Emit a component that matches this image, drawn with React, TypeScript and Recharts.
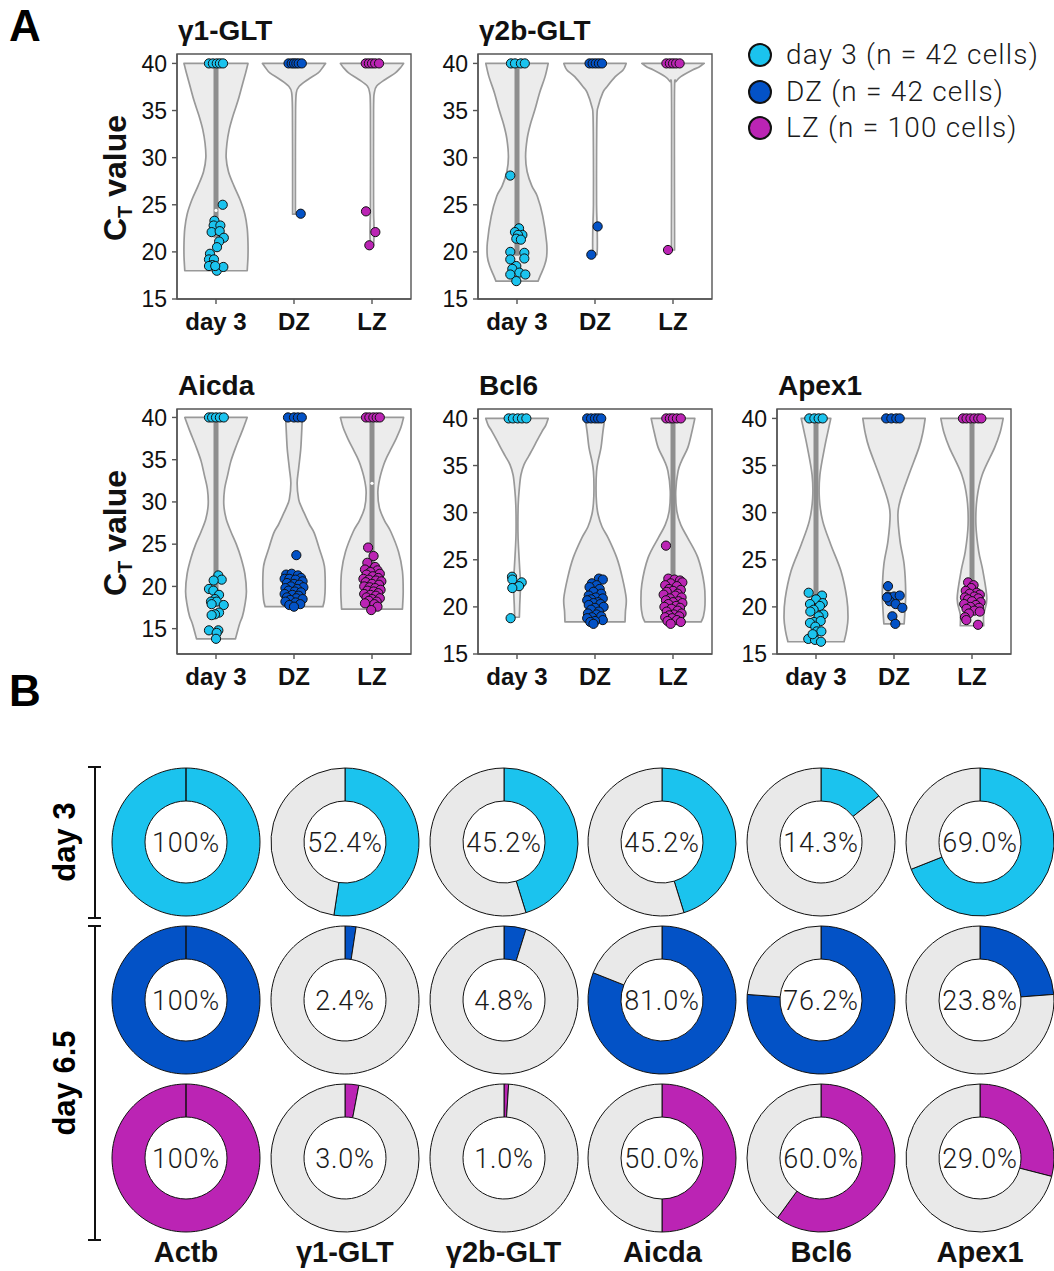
import React from "react";
import { ScatterChart, Scatter, XAxis, YAxis, ReferenceArea, PieChart, Pie, Cell, Label } from "recharts";

const FONT = "'Liberation Sans', Arial, Helvetica, sans-serif";
const LIGHT = "Roboto, 'Liberation Sans', sans-serif";

const groups = ["day 3", "DZ", "LZ"];
const groupColors = ["#1bc3ee", "#0352c6", "#bb24b4"];
const legendLabels = ["day 3 (n = 42 cells)", "DZ (n = 42 cells)", "LZ (n = 100 cells)"];
const yTicks = [15, 20, 25, 30, 35, 40];

// violin outlines: [Ct, half width in category units], day 3 / DZ / LZ
const g1Violins = [
  [[40, 0.41], [39, 0.38], [37.5, 0.33], [36, 0.28], [34.5, 0.22], [33, 0.17], [31.5, 0.14], [30, 0.13], [28.5, 0.16], [27, 0.23], [25.5, 0.31], [24, 0.37], [22.5, 0.4], [21, 0.41], [19.5, 0.41], [18, 0.4]],
  [[40, 0.405], [39.6, 0.37], [39, 0.31], [38.3, 0.18], [37.6, 0.07], [36.9, 0.03], [35, 0.02], [30, 0.018], [24, 0.018]],
  [[40, 0.405], [39.6, 0.37], [39, 0.3], [38.3, 0.17], [37.6, 0.06], [36.9, 0.03], [35, 0.02], [25, 0.02], [23, 0.025], [21.5, 0.025], [20.7, 0.02]],
];
const g2bViolins = [
  [[40, 0.4], [38.6, 0.36], [36.9, 0.29], [35.1, 0.23], [33.5, 0.17], [32, 0.13], [30.1, 0.11], [28.5, 0.13], [27, 0.19], [25.9, 0.26], [23.8, 0.33], [21, 0.38], [19.5, 0.38], [18.5, 0.35], [17.5, 0.3], [16.9, 0.27]],
  [[40, 0.4], [39.3, 0.36], [38.6, 0.26], [37.5, 0.15], [36.9, 0.1], [35.4, 0.04], [34.4, 0.025], [30, 0.02], [25, 0.02], [22.5, 0.028], [20.5, 0.03], [19.7, 0.025]],
  [[40, 0.4], [39.6, 0.33], [39.3, 0.25], [38.6, 0.1], [38.1, 0.04], [37.5, 0.02], [30, 0.018], [22, 0.02], [20.2, 0.02]],
];
const aicdaViolins = [
  [[40, 0.4], [38.5, 0.34], [36.4, 0.25], [34.8, 0.19], [33.2, 0.15], [31.5, 0.11], [29.7, 0.1], [28, 0.13], [26.5, 0.19], [25, 0.26], [23.4, 0.32], [21.5, 0.37], [19.4, 0.39], [17.8, 0.37], [16.5, 0.34], [15.5, 0.3], [13.8, 0.25]],
  [[40, 0.107], [38, 0.097], [36.2, 0.086], [34, 0.06], [32.2, 0.04], [30.3, 0.06], [29.3, 0.1], [28.3, 0.15], [27.3, 0.2], [26.3, 0.26], [24.3, 0.33], [22.4, 0.39], [20, 0.4], [18.4, 0.39], [17.6, 0.37]],
  [[40, 0.405], [38.8, 0.37], [37.5, 0.31], [36.4, 0.25], [35.3, 0.19], [34.4, 0.15], [32.8, 0.1], [31.2, 0.075], [29.3, 0.095], [27.8, 0.16], [26.5, 0.24], [24.1, 0.34], [21.8, 0.39], [19.4, 0.4], [17.3, 0.39]],
];
const bcl6Violins = [
  [[40, 0.4], [39.3, 0.37], [38.6, 0.32], [37.7, 0.26], [36.9, 0.21], [36, 0.15], [35.1, 0.09], [34, 0.05], [32.6, 0.03], [30.8, 0.015], [28, 0.012], [26.2, 0.02], [24, 0.035], [22.4, 0.045], [20.2, 0.035], [18.9, 0.03]],
  [[40, 0.125], [38.5, 0.1], [36.9, 0.077], [35.5, 0.04], [34.4, 0.02], [32.6, 0.013], [31, 0.02], [29.8, 0.04], [28.5, 0.09], [27.3, 0.17], [25.2, 0.28], [23.1, 0.35], [20.9, 0.4], [19.5, 0.39], [18.4, 0.385]],
  [[40, 0.28], [38.5, 0.24], [36.9, 0.19], [35.5, 0.11], [34.4, 0.065], [32.3, 0.035], [30.1, 0.05], [28.7, 0.1], [27.3, 0.19], [25.2, 0.32], [22.4, 0.4], [20.2, 0.41], [19, 0.39], [18.4, 0.36]],
];
const apex1Violins = [
  [[40, 0.19], [38.5, 0.15], [36.9, 0.11], [34, 0.05], [31.5, 0.043], [29.1, 0.086], [26.6, 0.19], [23.8, 0.32], [20.9, 0.395], [18.8, 0.41], [17.4, 0.39], [16.3, 0.36]],
  [[40, 0.4], [38.5, 0.37], [36.9, 0.32], [34, 0.19], [31.5, 0.086], [29.8, 0.05], [27, 0.077], [24.5, 0.13], [21.6, 0.15], [19.5, 0.14], [18.2, 0.13]],
  [[40, 0.4], [38.5, 0.36], [36.9, 0.29], [34, 0.13], [31.5, 0.064], [28.7, 0.05], [25.9, 0.086], [23.8, 0.14], [20.9, 0.19], [19.2, 0.15], [18, 0.15]],
];

// inner boxes: [q1, median, q3]
const g1Boxes = [[21.5, 24.4, 40], null, null];
const g2bBoxes = [[19.6, 40, 40], null, null];
const aicdaBoxes = [[18.2, 40, 40], [18.8, 19.8, 20.8], [22, 32.2, 40]];
const bcl6Boxes = [null, [19.3, 20.5, 21.8], [19.8, 22.9, 40]];
const apex1Boxes = [[18.5, 20.6, 40], null, [22.2, 40, 40]];

// cells: [jitter offset, Ct]
const g1Points = [
  [[-0.09, 40], [-0.04, 40], [0.01, 40], [0.05, 40], [0.09, 40], [0.086, 25.0], [-0.02, 23.3], [-0.03, 22.8], [0.056, 22.8], [-0.056, 22.1], [0.047, 22.2], [0.1, 21.5], [0.04, 21.1], [0.013, 20.5], [-0.077, 19.8], [-0.09, 19.2], [-0.026, 19.2], [-0.047, 18.6], [-0.09, 18.5], [0.01, 18.0], [0.094, 18.4], [-0.01, 18.5]],
  [[-0.07, 40], [-0.03, 40], [0.0, 40], [0.03, 40], [0.06, 40], [0.1, 40], [0.086, 24.05]],
  [[-0.08, 40], [-0.04, 40], [0.0, 40], [0.04, 40], [0.09, 40], [-0.077, 24.3], [0.043, 22.1], [-0.034, 20.7]],
];
const g2bPoints = [
  [[-0.077, 40], [-0.026, 40], [0.05, 40], [0.1, 40], [-0.086, 28.1], [0.026, 22.5], [-0.026, 22.1], [0.069, 21.8], [0.013, 21.8], [-0.009, 21.4], [0.05, 21.3], [-0.086, 20.0], [0.094, 19.9], [-0.086, 19.2], [0.094, 19.3], [-0.009, 18.5], [-0.06, 18.2], [0.03, 17.8], [-0.086, 17.6], [0.107, 17.6], [-0.009, 16.9]],
  [[-0.07, 40], [-0.03, 40], [0.01, 40], [0.05, 40], [0.09, 40], [0.034, 22.7], [-0.047, 19.7]],
  [[-0.085, 40], [-0.04, 40], [0.0, 40], [0.04, 40], [0.085, 40], [-0.064, 20.2]],
];
const aicdaPoints = [
  [[-0.09, 40], [-0.05, 40], [0.0, 40], [0.05, 40], [0.1, 40], [0.03, 21.3], [0.073, 20.8], [-0.03, 20.7], [-0.09, 19.7], [-0.034, 19.5], [0.039, 19.0], [-0.013, 18.5], [-0.064, 18.2], [0.009, 18.2], [0.099, 17.8], [-0.056, 17.9], [0.039, 16.9], [-0.013, 16.7], [-0.056, 16.6], [-0.09, 14.8], [0.03, 14.8], [0.009, 14.5], [0.0, 13.8]],
  [[-0.077, 40], [0.0, 40], [0.05, 40], [0.1, 40], [0.03, 23.7], [-0.1, 21.4], [-0.03, 21.5], [0.05, 21.3], [0.09, 21.0], [-0.12, 20.9], [-0.06, 20.9], [0.02, 20.8], [0.11, 20.6], [-0.09, 20.4], [0.0, 20.3], [0.07, 20.2], [-0.04, 20.0], [0.12, 19.9], [-0.11, 19.8], [0.04, 19.7], [-0.07, 19.5], [0.01, 19.4], [0.09, 19.3], [-0.12, 19.1], [-0.02, 19.0], [0.06, 18.9], [-0.09, 18.7], [0.03, 18.6], [0.11, 18.5], [-0.05, 18.4], [-0.11, 18.2], [0.02, 18.1], [0.08, 17.9], [-0.06, 17.8], [0.0, 17.6]],
  [[-0.077, 40], [-0.034, 40], [0.017, 40], [0.06, 40], [0.1, 40], [-0.05, 24.6], [0.02, 23.6], [-0.06, 22.8], [0.04, 22.3], [-0.09, 22.0], [0.07, 21.9], [-0.02, 21.7], [0.1, 21.5], [-0.07, 21.4], [0.01, 21.2], [0.08, 21.0], [-0.11, 20.9], [-0.04, 20.8], [0.05, 20.7], [0.12, 20.6], [-0.08, 20.5], [0.0, 20.3], [0.09, 20.2], [-0.1, 20.0], [-0.03, 19.9], [0.04, 19.8], [0.11, 19.6], [-0.06, 19.5], [0.02, 19.4], [0.08, 19.2], [-0.1, 19.1], [-0.02, 19.0], [0.05, 18.9], [-0.07, 18.7], [0.1, 18.6], [0.0, 18.5], [-0.04, 18.3], [0.06, 18.2], [-0.09, 18.0], [0.03, 17.9], [0.07, 17.6], [-0.01, 17.2]],
];
const bcl6Points = [
  [[-0.107, 40], [-0.052, 40], [0.009, 40], [0.064, 40], [0.12, 40], [-0.064, 23.2], [-0.06, 22.9], [0.06, 22.6], [0.026, 22.2], [-0.06, 22.0], [-0.082, 18.8]],
  [[-0.1, 40], [-0.05, 40], [0.0, 40], [0.04, 40], [0.08, 40], [0.05, 23.0], [0.1, 22.9], [-0.04, 22.5], [0.02, 22.3], [-0.07, 22.1], [0.06, 21.9], [-0.02, 21.6], [0.08, 21.4], [-0.08, 21.2], [0.01, 21.0], [0.1, 20.9], [-0.05, 20.8], [-0.1, 20.7], [0.04, 20.5], [-0.02, 20.4], [0.07, 20.3], [-0.08, 20.2], [0.11, 20.0], [0.0, 19.9], [-0.05, 19.7], [0.05, 19.5], [-0.09, 19.3], [0.02, 19.2], [0.08, 19.0], [-0.04, 18.9], [-0.1, 18.8], [0.1, 18.6], [0.0, 18.5], [-0.06, 18.4], [-0.02, 18.2]],
  [[-0.086, 40], [-0.04, 40], [0.0, 40], [0.05, 40], [0.1, 40], [-0.09, 26.5], [-0.06, 23.0], [0.02, 22.9], [0.09, 22.8], [0.12, 22.6], [-0.03, 22.5], [-0.1, 22.3], [0.05, 22.2], [-0.05, 21.9], [0.1, 21.8], [0.0, 21.7], [-0.08, 21.6], [0.06, 21.4], [-0.12, 21.3], [0.03, 21.2], [0.11, 21.0], [-0.04, 20.9], [-0.09, 20.7], [0.07, 20.6], [0.0, 20.5], [0.12, 20.4], [-0.06, 20.3], [0.04, 20.1], [-0.11, 20.0], [0.09, 19.9], [-0.02, 19.8], [0.06, 19.6], [-0.08, 19.5], [0.11, 19.3], [0.01, 19.2], [-0.05, 19.1], [0.08, 19.0], [-0.1, 18.9], [-0.01, 18.8], [0.05, 18.6], [-0.07, 18.5], [0.1, 18.4], [-0.03, 18.2]],
];
const apex1Points = [
  [[-0.086, 40], [-0.021, 40], [0.034, 40], [0.086, 40], [-0.094, 21.5], [0.077, 21.2], [0.0, 20.8], [-0.077, 20.3], [0.086, 20.4], [0.05, 20.1], [-0.03, 19.7], [0.094, 19.2], [-0.073, 19.5], [0.034, 19.0], [-0.026, 18.4], [-0.077, 18.3], [0.06, 18.5], [-0.009, 17.9], [0.009, 17.4], [0.069, 17.4], [-0.099, 16.6], [-0.013, 16.5], [0.064, 16.3], [-0.043, 17.1]],
  [[-0.1, 40], [-0.034, 40], [0.03, 40], [0.073, 40], [-0.077, 22.2], [-0.077, 21.1], [0.0, 21.1], [0.073, 21.2], [-0.055, 20.6], [0.021, 20.3], [0.107, 19.9], [-0.021, 19.0], [0.017, 18.2], [-0.09, 21.0]],
  [[-0.116, 40], [-0.07, 40], [-0.02, 40], [0.03, 40], [0.08, 40], [0.12, 40], [-0.05, 22.6], [0.02, 22.3], [-0.01, 22.0], [-0.08, 21.7], [0.06, 21.5], [0.1, 21.3], [-0.03, 21.4], [0.03, 21.1], [-0.09, 21.0], [0.08, 20.9], [-0.05, 20.8], [0.0, 20.6], [0.11, 20.5], [-0.1, 20.3], [0.05, 20.2], [-0.02, 20.0], [0.09, 19.9], [-0.07, 19.8], [0.03, 19.6], [0.1, 19.5], [-0.04, 19.3], [-0.09, 18.9], [-0.073, 18.6], [0.077, 18.1]],
];

// panel B: percent of cells with detected transcript
const donutGenes = ["Actb", "γ1-GLT", "γ2b-GLT", "Aicda", "Bcl6", "Apex1"];
const day3Pct = [100, 52.4, 45.2, 45.2, 14.3, 69.0];
const dzPct = [100, 2.4, 4.8, 81.0, 76.2, 23.8];
const lzPct = [100, 3.0, 1.0, 50.0, 60.0, 29.0];

const panels = [
  { title: "γ1-GLT", violins: g1Violins, boxes: g1Boxes, points: g1Points, yMin: 15, left: 177, top: 54, yLabel: true },
  { title: "γ2b-GLT", violins: g2bViolins, boxes: g2bBoxes, points: g2bPoints, yMin: 15, left: 478, top: 54, yLabel: false },
  { title: "Aicda", violins: aicdaViolins, boxes: aicdaBoxes, points: aicdaPoints, yMin: 12, left: 177, top: 409, yLabel: true },
  { title: "Bcl6", violins: bcl6Violins, boxes: bcl6Boxes, points: bcl6Points, yMin: 15, left: 478, top: 409, yLabel: false },
  { title: "Apex1", violins: apex1Violins, boxes: apex1Boxes, points: apex1Points, yMin: 15, left: 777, top: 409, yLabel: false },
];

const PLOT_W = 234;
const PLOT_H = 245;
const Y_AXIS_W = 70;
const X_AXIS_H = 50;
const PAD = 8;

function violinOutline(profile, center) {
  const right = profile.map(([y, w]) => ({ x: center + w, y }));
  const left = [...profile].reverse().map(([y, w]) => ({ x: center - w, y }));
  return [...right, ...left];
}

// smooth one side of the outline (catmull-rom -> bezier)
function smoothSide(pts) {
  let d = "";
  for (let i = 0; i < pts.length - 1; i++) {
    const p0 = pts[Math.max(0, i - 1)];
    const p1 = pts[i];
    const p2 = pts[i + 1];
    const p3 = pts[Math.min(pts.length - 1, i + 2)];
    const c1x = p1.x + (p2.x - p0.x) / 6;
    const c1y = p1.y + (p2.y - p0.y) / 6;
    const c2x = p2.x - (p3.x - p1.x) / 6;
    const c2y = p2.y - (p3.y - p1.y) / 6;
    d += `C${c1x},${c1y} ${c2x},${c2y} ${p2.x},${p2.y}`;
  }
  return d;
}

const renderViolin = (props) => {
  const pts = props.points || [];
  const n = pts.length / 2;
  const right = pts.slice(0, n);
  const left = pts.slice(n);
  const d = `M${right[0].x},${right[0].y}` + smoothSide(right) + `L${left[0].x},${left[0].y}` + smoothSide(left) + "Z";
  return <path d={d} fill="#ececec" stroke="#999" strokeWidth={1.7} strokeLinejoin="round" />;
};

const renderBar = (props) => {
  const [a, b] = props.points;
  return <line x1={a.x} y1={a.y} x2={b.x} y2={b.y} stroke="#8e8e8e" strokeWidth={5} />;
};

const renderNothing = () => <g />;

const dot = (color) => (p) => <circle cx={p.cx} cy={p.cy} r={4.6} fill={color} stroke="#111" strokeWidth={1} />;

const medianDot = (p) => <circle cx={p.cx} cy={p.cy} r={1.6} fill="#fff" />;

function ViolinPanel({ panel }) {
  const { violins, boxes, points, yMin, left, top, title, yLabel } = panel;
  return (
    <>
      <div style={{ position: "absolute", left: left + 1, top: top - 23, transform: "translateY(-50%)", fontFamily: FONT, fontWeight: 700, fontSize: 28, lineHeight: 1, color: "#111", whiteSpace: "nowrap" }}>{title}</div>
      {yLabel && (
        <div style={{ position: "absolute", left: 117, top: top + 124, transform: "translate(-50%, -50%) rotate(-90deg)", fontFamily: FONT, fontWeight: 700, fontSize: 32, lineHeight: 1, color: "#111", whiteSpace: "nowrap" }}>
          C<span style={{ fontSize: 20, verticalAlign: -6 }}>T</span> value
        </div>
      )}
      <div style={{ position: "absolute", left: left - Y_AXIS_W, top: top - PAD }}>
        <ScatterChart width={Y_AXIS_W + PLOT_W + 10} height={PAD + PLOT_H + X_AXIS_H} margin={{ top: PAD, right: 10, bottom: 0, left: 0 }}>
          <XAxis type="number" dataKey="x" domain={[0.5, 3.5]} ticks={[1, 2, 3]} allowDataOverflow interval={0} height={X_AXIS_H}
            tickFormatter={(v) => groups[Math.round(v) - 1]} tick={{ fontSize: 24, fontWeight: 700, fill: "#111", fontFamily: FONT }}
            tickSize={5} tickMargin={9} stroke="#555" strokeWidth={1.4} />
          <YAxis type="number" dataKey="y" domain={[yMin, 41]} ticks={yTicks} allowDataOverflow interval={0} width={Y_AXIS_W}
            tick={{ fontSize: 23, fill: "#111", fontFamily: FONT }} tickSize={5} tickMargin={5} stroke="#555" strokeWidth={1.4} />
          <ReferenceArea x1={0.5} x2={3.5} y1={yMin} y2={41} fill="none" stroke="#555" strokeWidth={1.4} ifOverflow="visible" />
          {violins.map((prof, i) => (
            <Scatter key={"v" + i} data={violinOutline(prof, i + 1)} line={renderViolin} shape={renderNothing} isAnimationActive={false} />
          ))}
          {boxes.map((b, i) => b && (
            <Scatter key={"b" + i} data={[{ x: i + 1, y: b[0] }, { x: i + 1, y: b[2] }]} line={renderBar} shape={renderNothing} isAnimationActive={false} />
          ))}
          {boxes.map((b, i) => b && (
            <Scatter key={"m" + i} data={[{ x: i + 1, y: b[1] }]} shape={medianDot} isAnimationActive={false} />
          ))}
          {points.map((grp, i) => (
            <Scatter key={"p" + i} data={grp.map(([dx, y]) => ({ x: i + 1 + dx, y }))} shape={dot(groupColors[i])} isAnimationActive={false} />
          ))}
        </ScatterChart>
      </div>
    </>
  );
}

const DONUT_X0 = 186;
const DONUT_STEP = 158.8;
const DONUT_ROWS_Y = [842, 1000, 1158];
const DONUT_BOX = 160;

function Donut({ pct, color, cx, cy }) {
  const data = [{ name: "detected", value: pct }, { name: "not detected", value: 100 - pct }];
  const text = pct === 100 ? "100%" : pct.toFixed(1) + "%";
  return (
    <div style={{ position: "absolute", left: cx - DONUT_BOX / 2, top: cy - DONUT_BOX / 2 }}>
      <PieChart width={DONUT_BOX} height={DONUT_BOX} margin={{ top: 0, right: 0, bottom: 0, left: 0 }}>
        <Pie data={data} dataKey="value" cx="50%" cy="50%" innerRadius={41} outerRadius={74} startAngle={90} endAngle={-270}
          stroke="#111" strokeWidth={1} isAnimationActive={false}>
          <Cell fill={color} />
          <Cell fill="#e9e9e9" />
          <Label value={text} position="center" fontSize={27} fontFamily={LIGHT} fontWeight={300} fill="#1a1a1a" letterSpacing={0.8} />
        </Pie>
      </PieChart>
    </div>
  );
}

export default function App() {
  const rows = [day3Pct, dzPct, lzPct];
  return (
    <div style={{ position: "absolute", left: 0, top: 0, width: 1054, height: 1271, background: "#fff", overflow: "hidden", fontFamily: FONT }}>
      <div style={{ position: "absolute", left: 9, top: 4, fontSize: 44, fontWeight: 700, lineHeight: 1 }}>A</div>
      <div style={{ position: "absolute", left: 9, top: 669, fontSize: 44, fontWeight: 700, lineHeight: 1 }}>B</div>

      {panels.map((p) => <ViolinPanel key={p.title} panel={p} />)}

      {legendLabels.map((lab, i) => (
        <div key={lab} style={{ position: "absolute", left: 747, top: 55 + i * 36.5, transform: "translateY(-50%)", display: "flex", alignItems: "center", whiteSpace: "nowrap" }}>
          <svg width={26} height={26}><circle cx={13} cy={13} r={11} fill={groupColors[i]} stroke="#111" strokeWidth={2} /></svg>
          <span style={{ marginLeft: 13, fontFamily: LIGHT, fontWeight: 300, fontSize: 28, letterSpacing: 1.2, color: "#1a1a1a", lineHeight: 1 }}>{lab}</span>
        </div>
      ))}

      {rows.map((row, r) => row.map((pct, c) => (
        <Donut key={r + "-" + c} pct={pct} color={groupColors[r]} cx={DONUT_X0 + c * DONUT_STEP} cy={DONUT_ROWS_Y[r]} />
      )))}

      {donutGenes.map((g, c) => (
        <div key={g} style={{ position: "absolute", left: DONUT_X0 + c * DONUT_STEP, top: 1252, transform: "translate(-50%, -50%)", fontSize: 29, fontWeight: 700, lineHeight: 1, color: "#111", whiteSpace: "nowrap" }}>{g}</div>
      ))}

      <svg style={{ position: "absolute", left: 0, top: 0 }} width={120} height={1271}>
        <g stroke="#111" strokeWidth={2}>
          <line x1={95} y1={767} x2={95} y2={918} />
          <line x1={88} y1={767} x2={101} y2={767} />
          <line x1={88} y1={918} x2={101} y2={918} />
          <line x1={95} y1={926} x2={95} y2={1240} />
          <line x1={88} y1={926} x2={101} y2={926} />
          <line x1={88} y1={1240} x2={101} y2={1240} />
        </g>
      </svg>
      <div style={{ position: "absolute", left: 64, top: 842, transform: "translate(-50%, -50%) rotate(-90deg)", fontSize: 31, fontWeight: 700, lineHeight: 1, whiteSpace: "nowrap" }}>day 3</div>
      <div style={{ position: "absolute", left: 64, top: 1083, transform: "translate(-50%, -50%) rotate(-90deg)", fontSize: 31, fontWeight: 700, lineHeight: 1, whiteSpace: "nowrap" }}>day 6.5</div>
    </div>
  );
}
